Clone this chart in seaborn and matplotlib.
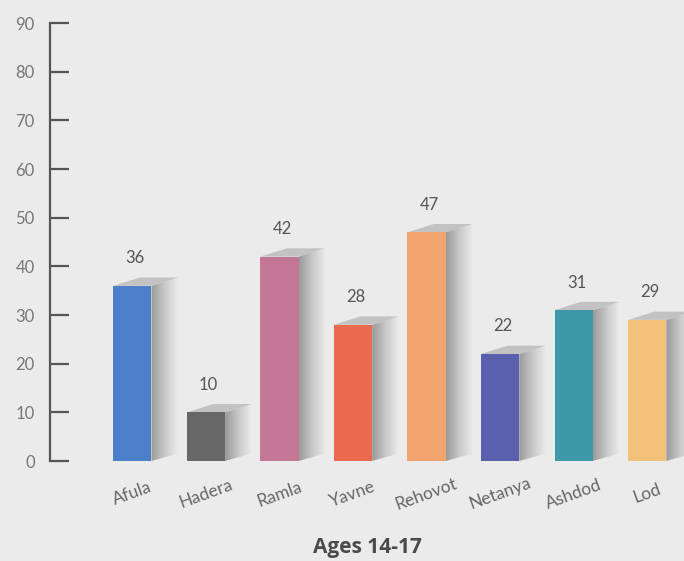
import numpy as np
import pandas as pd
import matplotlib
matplotlib.use("Agg")
import matplotlib.pyplot as plt
from matplotlib.patches import Polygon
from matplotlib.colors import LinearSegmentedColormap
import seaborn as sns

cities = ["Afula", "Hadera", "Ramla", "Yavne", "Rehovot", "Netanya", "Ashdod", "Lod"]
values = [36, 10, 42, 28, 47, 22, 31, 29]
colors = ["#4b7fc9", "#676767", "#c47795", "#ea6a50", "#f2a46f", "#5a5fae", "#3d98a8", "#f3c179"]
yticks = [0, 10, 20, 30, 40, 50, 60, 70, 80, 90]
title = "Ages 14-17"

bg = "#ebebeb"
sns.set_theme(style="white")
plt.rcParams["font.family"] = ["Lato", "DejaVu Sans"]

fig = plt.figure(figsize=(6.84, 5.61), dpi=100, facecolor=bg)
ax = fig.add_axes([50 / 684, 1 - 461 / 561, 1 - 50 / 684, (461 - 23) / 561])
ax.set_facecolor(bg)

df = pd.DataFrame({"city": cities, "value": values})
bw = 0.52
sns.barplot(data=df, x="city", y="value", hue="city", palette=colors,
            legend=False, width=bw, ax=ax, saturation=1, zorder=3,
            linewidth=0, edgecolor="none")

# 3D-ish shadows derived from bar geometry
dx, dy = 0.36, 1.7
grad = np.linspace(0, 1, 64).reshape(1, -1)
cmap = LinearSegmentedColormap.from_list("sh", ["#9a9a9a", "#c8c8c8", bg])
for i, v in enumerate(values):
    x1 = i + bw / 2
    x0 = i - bw / 2
    side = Polygon([(x1, 0), (x1 + dx, dy * 0.9), (x1 + dx, v + dy), (x1, v)],
                   closed=True, facecolor="none", edgecolor="none",
                   transform=ax.transData)
    ax.add_patch(side)
    im = ax.imshow(grad, extent=[x1, x1 + dx, 0, v + dy], aspect="auto",
                   cmap=cmap, zorder=2, interpolation="bilinear")
    im.set_clip_path(side)
    top = Polygon([(x0, v), (x1, v), (x1 + dx, v + dy), (x0 + dx, v + dy)],
                  closed=True, facecolor="#c2c2c2", edgecolor="none", zorder=2)
    ax.add_patch(top)
    ax.annotate(str(v), (i, v), xytext=(2, 14), textcoords="offset points",
                ha="center", va="bottom", fontsize=12, color="#555555")

ax.set_xlim(-1.12, 7.5)
ax.set_ylim(0, 90)
ax.set_yticks(yticks)
ax.set_yticklabels([str(t) for t in yticks], fontsize=12, color="#777777")
ax.tick_params(axis="y", direction="in", length=14, width=1.6, colors="#555555",
               pad=11, left=True, labelcolor="#777777")
ax.tick_params(axis="x", length=0)
ax.set_xticks(range(len(cities)))
ax.set_xticklabels([])
for i, c in enumerate(cities):
    ax.text(i, -0.075, c, transform=ax.get_xaxis_transform(), rotation=20,
            ha="center", va="center", fontsize=12.5, color="#666666")
ax.set_xlabel("")
ax.set_ylabel("")
for s in ["top", "right", "bottom"]:
    ax.spines[s].set_visible(False)
ax.spines["left"].set_color("#555555")
ax.spines["left"].set_linewidth(1.6)

fig.text(367 / 684, 1 - 548 / 561, title, ha="center", va="center",
         fontsize=15, fontweight="bold", color="#4a4a4a",
         family=["Open Sans", "DejaVu Sans"])

fig.savefig("out.png", dpi=100, facecolor=bg)
